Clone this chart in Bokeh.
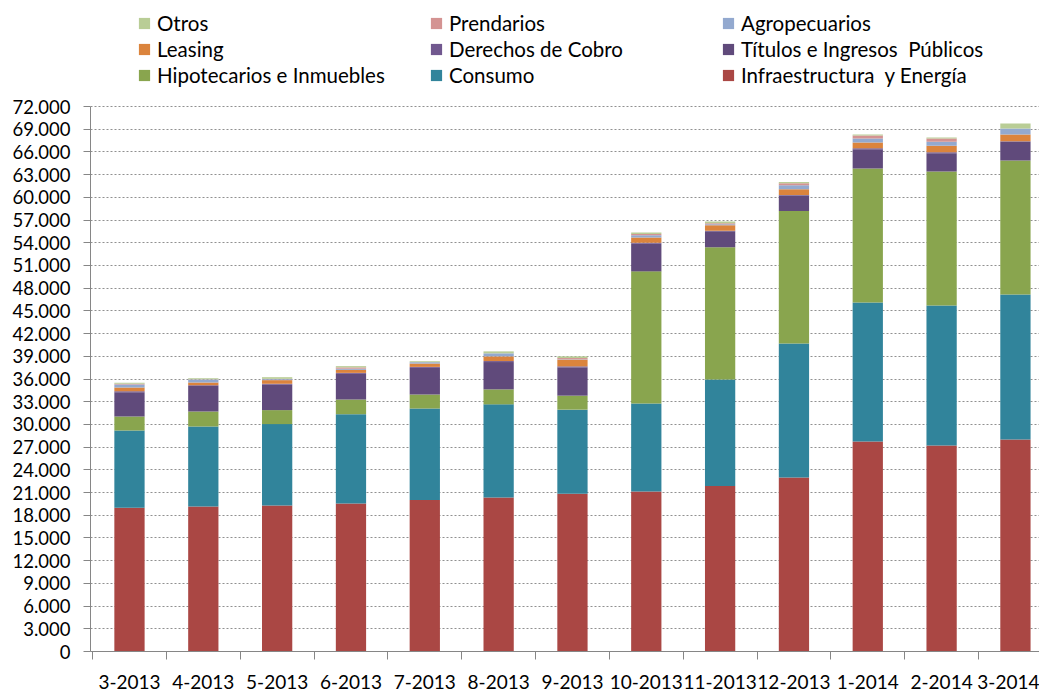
from bokeh.plotting import figure
from bokeh.models import Range1d, FixedTicker, CustomJSTickFormatter, Legend, LegendItem, ColumnDataSource
from bokeh.embed import file_html
from bokeh.resources import INLINE

months = ["3-2013", "4-2013", "5-2013", "6-2013", "7-2013", "8-2013", "9-2013",
          "10-2013", "11-2013", "12-2013", "1-2014", "2-2014", "3-2014"]

infra = [19000, 19150, 19300, 19550, 20000, 20350, 20850, 21150, 21850, 23000, 27750, 27200, 28000]
consumo = [10200, 10580, 10740, 11800, 12100, 12300, 11100, 11620, 14100, 17700, 18350, 18500, 19150]
hipotecarios = [1850, 1980, 1850, 1940, 1850, 1980, 1850, 17450, 17450, 17480, 17700, 17700, 17700]
titulos = [3200, 3350, 3350, 3390, 3520, 3610, 3740, 3660, 2110, 2070, 2550, 2420, 2510]
derechos = [130, 130, 130, 130, 130, 130, 130, 130, 90, 60, 130, 130, 40]
leasing = [490, 350, 480, 400, 440, 620, 880, 700, 700, 750, 750, 850, 900]
agropecuarios = [400, 400, 130, 150, 180, 400, 50, 270, 130, 530, 530, 530, 790]
prendarios = [100, 40, 40, 170, 0, 0, 170, 170, 130, 260, 400, 440, 0]
otros = [150, 130, 220, 170, 130, 260, 220, 220, 260, 170, 130, 130, 660]

y_max = 72000

# stacking order, bottom to top
keys = ["infra", "consumo", "hipotecarios", "titulos", "derechos", "leasing",
        "agropecuarios", "prendarios", "otros"]
labels = {
    "infra": "Infraestructura  y Energía",
    "consumo": "Consumo",
    "hipotecarios": "Hipotecarios e Inmuebles",
    "titulos": "Títulos e Ingresos  Públicos",
    "derechos": "Derechos de Cobro",
    "leasing": "Leasing",
    "agropecuarios": "Agropecuarios",
    "prendarios": "Prendarios",
    "otros": "Otros",
}
colors = ["#AA4744", "#31849B", "#89A54E", "#604A7B", "#71588F", "#DB843D",
          "#93A9CF", "#D49392", "#B9CD96"]
legend_order = ["otros", "prendarios", "agropecuarios", "leasing", "derechos",
                "titulos", "hipotecarios", "consumo", "infra"]

x = list(range(len(months)))
source = ColumnDataSource(data=dict(
    x=x, infra=infra, consumo=consumo, hipotecarios=hipotecarios, titulos=titulos,
    derechos=derechos, leasing=leasing, agropecuarios=agropecuarios,
    prendarios=prendarios, otros=otros))

W, H = 1039, 691
bottom_border = 40
plot_h = 545                     # pixels from 0 to y_max
frame_h = H - bottom_border
p = figure(width=W, height=H, output_backend="svg", toolbar_location=None,
           x_range=Range1d(-0.528, 12.326),
           y_range=Range1d(0, y_max * frame_h / plot_h),
           min_border_left=90, min_border_right=0, min_border_top=0,
           min_border_bottom=bottom_border)
p.outline_line_color = None
p.background_fill_color = "white"

rends = p.vbar_stack(keys, x="x", width=0.41, source=source,
                     fill_color=colors, line_color=None)
rmap = dict(zip(keys, rends))

# axes
p.xgrid.visible = False
p.ygrid.grid_line_color = "#909090"
p.ygrid.grid_line_dash = "2 2"
p.ygrid.grid_line_width = 1

p.yaxis.ticker = FixedTicker(ticks=list(range(0, y_max + 1, 3000)))
p.yaxis.bounds = (0, y_max)
p.yaxis.formatter = CustomJSTickFormatter(
    code="return tick.toFixed(0).replace(/\\B(?=(\\d{3})+(?!\\d))/g, '.');")
p.yaxis.axis_line_color = "#868686"
p.yaxis.major_tick_line_color = "#868686"
p.yaxis.major_tick_out = 7
p.yaxis.major_tick_in = 0
p.yaxis.minor_tick_line_color = None
p.yaxis.major_label_standoff = 13
p.yaxis.major_label_text_font = "Lato"
p.yaxis.major_label_text_font_size = "18.5px"
p.yaxis.major_label_text_color = "black"

p.xaxis.ticker = FixedTicker(ticks=x, minor_ticks=[i - 0.5 for i in range(len(months) + 1)])
p.xaxis.major_label_overrides = {i: m for i, m in enumerate(months)}
p.xaxis.axis_line_color = "#868686"
p.xaxis.major_tick_out = 0
p.xaxis.major_tick_in = 0
p.xaxis.minor_tick_out = 8
p.xaxis.minor_tick_in = 0
p.xaxis.minor_tick_line_color = "#868686"
p.xaxis.major_label_standoff = 15
p.xaxis.major_label_text_font = "Lato"
p.xaxis.major_label_text_font_size = "19px"
p.xaxis.major_label_text_color = "black"

items = [LegendItem(label=labels[k], renderers=[rmap[k]]) for k in legend_order]
legend = Legend(items=items, location=(47, 564), orientation="horizontal", ncols=3,
                glyph_width=14, glyph_height=14, label_standoff=6, label_width=270,
                label_height=21, spacing=2, padding=0, margin=0,
                border_line_color=None, background_fill_alpha=0,
                label_text_font="Lato", label_text_font_size="20.5px",
                label_text_color="black")
p.add_layout(legend, "center")

open("out.html", "w").write(file_html(p, INLINE))
